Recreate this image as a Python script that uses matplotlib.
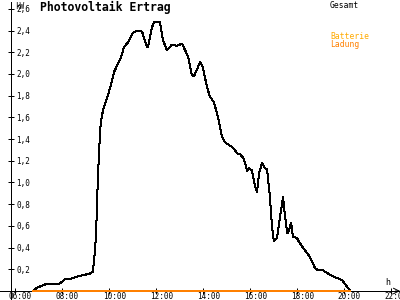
import matplotlib
matplotlib.use("Agg")
import matplotlib.pyplot as plt
from matplotlib.transforms import ScaledTranslation

# Photovoltaik Ertrag, time in hours, power in kW
hours = [6.78, 6.95, 7.29, 7.63, 7.93, 8.14, 8.35, 8.78, 9.20, 9.33,
         9.42, 9.46, 9.50, 9.54, 9.59, 9.63, 9.67, 9.76, 9.93, 10.10,
         10.23, 10.52, 10.65, 10.82, 11.03, 11.20, 11.42, 11.63, 11.67, 11.84,
         11.93, 12.18, 12.31, 12.48, 12.69, 12.91, 13.12, 13.25, 13.38, 13.54,
         13.63, 13.89, 14.01, 14.18, 14.31, 14.48, 14.65, 14.74, 14.82, 14.95,
         15.16, 15.29, 15.46, 15.59, 15.72, 15.80, 15.89, 15.97, 16.10, 16.19,
         16.31, 16.40, 16.53, 16.65, 16.74, 16.86, 16.95, 17.03, 17.16, 17.29,
         17.42, 17.46, 17.59, 17.63, 17.76, 17.84, 18.01, 18.10, 18.27, 18.57,
         18.78, 18.91, 19.12, 19.42, 19.71, 19.93, 20.14, 20.27]
gesamt = [0.00, 0.03, 0.06, 0.06, 0.07, 0.11, 0.11, 0.14, 0.16, 0.18,
          0.38, 0.53, 0.77, 1.05, 1.27, 1.46, 1.56, 1.67, 1.78, 1.90,
          2.02, 2.15, 2.25, 2.29, 2.38, 2.40, 2.39, 2.25, 2.25, 2.43,
          2.48, 2.48, 2.31, 2.22, 2.27, 2.26, 2.28, 2.22, 2.16, 1.99,
          1.98, 2.11, 2.06, 1.88, 1.79, 1.74, 1.60, 1.51, 1.42, 1.37,
          1.34, 1.32, 1.27, 1.26, 1.23, 1.18, 1.11, 1.13, 1.11, 1.00,
          0.91, 1.09, 1.18, 1.13, 1.12, 0.87, 0.59, 0.46, 0.49, 0.68,
          0.87, 0.77, 0.54, 0.53, 0.63, 0.50, 0.49, 0.45, 0.40, 0.31,
          0.21, 0.19, 0.19, 0.15, 0.12, 0.10, 0.04, 0.01]
batterie_hours = [6.78, 20.27]
batterie_ladung = [0.0, 0.0]

x_ticks = [6, 8, 10, 12, 14, 16, 18, 20, 22]
x_tick_labels = ["06:00", "08:00", "10:00", "12:00", "14:00", "16:00", "18:00", "20:00", "22:00"]
y_ticks = [0.2, 0.4, 0.6, 0.8, 1.0, 1.2, 1.4, 1.6, 1.8, 2.0, 2.2, 2.4, 2.6]
y_tick_labels = ["0,2", "0,4", "0,6", "0,8", "1,0", "1,2", "1,4", "1,6", "1,8", "2,0", "2,2", "2,4", "2,6"]

ORANGE = "#ff8000"
YELLOW = "#ffaa00"
MONO = "DejaVu Sans Mono"
LW = 0.72  # one pixel at 100 dpi

fig = plt.figure(figsize=(4, 3), dpi=100)
ax = fig.add_axes([0, 0, 1, 1])
ax.set_xlim(5.374, 22.396)
ax.set_ylim(-0.083, 2.682)

ax.plot(hours, gesamt, color="black", lw=LW, antialiased=False, zorder=3)
ax.plot(batterie_hours, batterie_ladung, color=ORANGE, lw=1.1, antialiased=False, zorder=5)

for side in ("top", "right"):
    ax.spines[side].set_visible(False)
ax.spines["left"].set_position(("data", 5.843))
ax.spines["bottom"].set_position(("data", 0))
ax.spines["left"].set_bounds(-0.083, 2.66)
for sp in ("left", "bottom"):
    ax.spines[sp].set_linewidth(LW)
    ax.spines[sp].set_antialiased(False)

ax.set_xticks(x_ticks)
ax.set_xticklabels(x_tick_labels, fontsize=5.5, family=MONO)
ax.set_yticks(y_ticks)
ax.set_yticklabels(y_tick_labels, fontsize=5.5, family=MONO)
ax.tick_params(axis="x", direction="inout", length=5, width=LW, pad=-2)
ax.tick_params(axis="y", direction="inout", length=5, width=LW, pad=-6.1)
for lbl in ax.get_yticklabels():
    lbl.set_horizontalalignment("left")
for lbl in ax.get_xticklabels():
    lbl.set_transform(lbl.get_transform() + ScaledTranslation(5.5 / 100, 0, fig.dpi_scale_trans))

# axis arrows
ax.annotate("", xy=(5.843, 2.69), xytext=(5.843, 2.6),
            arrowprops=dict(arrowstyle="->", lw=LW, color="black", shrinkA=0, shrinkB=0))
ax.annotate("", xy=(22.40, 0), xytext=(22.2, 0),
            arrowprops=dict(arrowstyle="->", lw=LW, color="black", shrinkA=0, shrinkB=0))

fig.text(15 / 400, 1 - 2 / 300, "kW", fontsize=5.5, family=MONO, va="top", ha="left")
fig.text(385 / 400, 1 - 278 / 300, "h", fontsize=6, family=MONO, va="top", ha="left")
fig.text(40 / 400, 1 - 7 / 300, "Photovoltaik Ertrag", fontsize=8.3, family=MONO,
         weight="bold", va="center", ha="left")
fig.text(330 / 400, 1 - 1 / 300, "Gesamt", fontsize=5.8, family=MONO, va="top", ha="left")
fig.text(330 / 400, 1 - 32 / 300, "Batterie", fontsize=5.8, family=MONO, color=YELLOW,
         va="top", ha="left")
fig.text(330 / 400, 1 - 40 / 300, "Ladung", fontsize=5.8, family=MONO, color=ORANGE,
         va="top", ha="left")

fig.savefig("out.png", dpi=100)
